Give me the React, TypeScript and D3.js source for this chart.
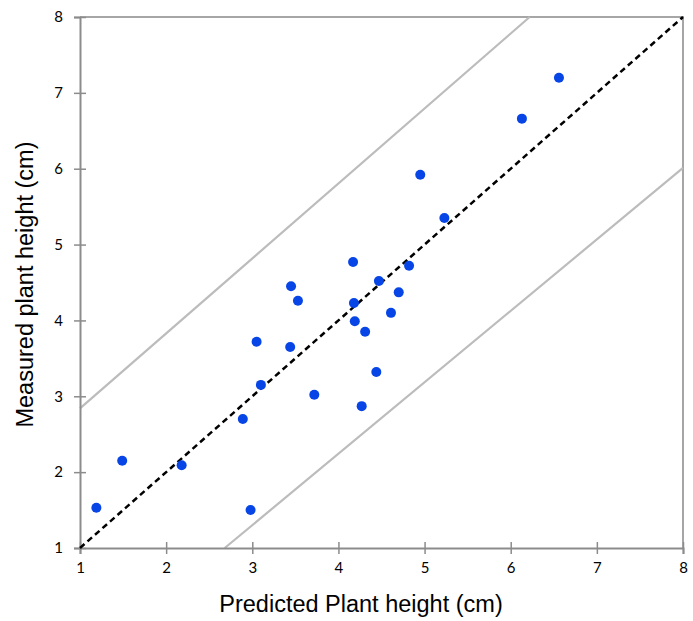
import { useEffect, useRef } from 'react';
import * as d3 from 'd3';

const WIDTH = 693;
const HEIGHT = 621;
const MARGIN = { top: 17, right: 10, bottom: 73, left: 80 };

// predicted (x) vs measured (y)
const predicted = [1.19, 1.49, 2.18, 2.89, 2.98, 3.05, 3.10, 3.44, 3.45, 3.53, 3.72, 4.17, 4.18, 4.19, 4.27, 4.31, 4.44, 4.47, 4.61, 4.70, 4.82, 4.95, 5.23, 6.13, 6.56];
const measured = [1.53, 2.15, 2.09, 2.70, 1.50, 3.72, 3.15, 3.65, 4.45, 4.26, 3.02, 4.77, 4.23, 3.99, 2.87, 3.85, 3.32, 4.52, 4.10, 4.37, 4.72, 5.92, 5.35, 6.66, 7.20];

const ticks = [1, 2, 3, 4, 5, 6, 7, 8];
const oneToOne = [[1, 1], [8, 8]];
const upperBand = [[1, 2.84], [6.22, 8]];
const lowerBand = [[2.68, 1], [8, 6.01]];

export default function App() {
  const svgRef = useRef<SVGSVGElement>(null);

  useEffect(() => {
    const svg = d3.select(svgRef.current);
    svg.selectAll('*').remove();

    const w = 683 - MARGIN.left;
    const h = 548 - MARGIN.top;
    const g = svg.append('g').attr('transform', `translate(${MARGIN.left},${MARGIN.top})`);

    const x = d3.scaleLinear().domain([1, 8]).range([0, w]);
    const y = d3.scaleLinear().domain([1, 8]).range([h, 0]);

    // frame (top / right)
    g.append('path')
      .attr('d', `M0,0H${w}V${h}`)
      .attr('fill', 'none').attr('stroke', '#a6a6a6').attr('stroke-width', 2);

    const line = d3.line<number[]>().x(d => x(d[0])).y(d => y(d[1]));

    // band lines
    [upperBand, lowerBand].forEach(b => {
      g.append('path').datum(b)
        .attr('d', line)
        .attr('fill', 'none').attr('stroke', '#bcbcbc').attr('stroke-width', 2.2);
    });

    // axes
    const fontFam = 'Lato, "Open Sans", sans-serif';
    const xAxis = g.append('g').attr('transform', `translate(0,${h})`)
      .call(d3.axisBottom(x).tickValues(ticks).tickSize(6).tickFormat(d3.format('d')));
    const yAxis = g.append('g')
      .call(d3.axisLeft(y).tickValues(ticks).tickSize(6).tickFormat(d3.format('d')));

    [xAxis, yAxis].forEach(ax => {
      ax.select('.domain').attr('stroke', '#8c8c8c').attr('stroke-width', 2);
      ax.selectAll('.tick line').attr('stroke', '#8c8c8c').attr('stroke-width', 1.5);
      ax.selectAll('.tick text').attr('font-family', fontFam).attr('font-size', 15).attr('fill', '#000');
    });
    xAxis.selectAll('.tick line').attr('y1', -6).attr('y2', 6);
    xAxis.selectAll('.tick text').attr('y', 14);
    yAxis.selectAll('.tick line').attr('x1', -6).attr('x2', 6);
    yAxis.selectAll('.tick text').attr('x', -17);

    // 1:1 line
    g.append('path').datum(oneToOne)
      .attr('d', line)
      .attr('fill', 'none').attr('stroke', '#000')
      .attr('stroke-width', 2.5).attr('stroke-dasharray', '6,4');

    // points
    g.selectAll('circle.pt')
      .data(predicted.map((p, i) => [p, measured[i]]))
      .enter().append('circle')
      .attr('class', 'pt')
      .attr('cx', d => x(d[0])).attr('cy', d => y(d[1]))
      .attr('r', 5).attr('fill', '#0745e6');

    // titles
    svg.append('text')
      .attr('x', 361).attr('y', 612)
      .attr('text-anchor', 'middle')
      .attr('font-family', '"Liberation Sans", Arial, sans-serif').attr('font-size', 23.5)
      .text('Predicted Plant height (cm)');
    svg.append('text')
      .attr('transform', `translate(33,${MARGIN.top + h / 2 + 2}) rotate(-90)`)
      .attr('text-anchor', 'middle')
      .attr('font-family', '"Liberation Sans", Arial, sans-serif').attr('font-size', 23.5)
      .text('Measured plant height (cm)');
  }, []);

  return <svg ref={svgRef} width={WIDTH} height={HEIGHT} style={{ position: 'absolute', left: 0, top: 0 }} />;
}
